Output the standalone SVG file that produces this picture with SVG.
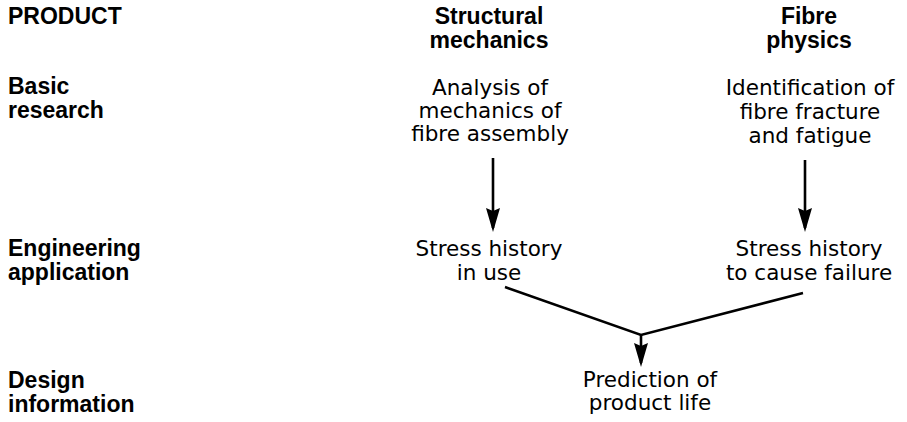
<svg xmlns="http://www.w3.org/2000/svg" width="907" height="422" viewBox="0 0 907 422">
<style>
.b{font-family:"Liberation Sans",Arial,sans-serif;font-weight:bold;font-size:23px;fill:#000}
.r{font-family:"DejaVu Sans","Liberation Sans",sans-serif;font-size:21.5px;fill:#000}
.c{text-anchor:middle}
.ln{stroke:#000;stroke-width:2.6;fill:none}
</style>
<defs>
<marker id="ah" viewBox="0 0 24 14" refX="20" refY="7" markerWidth="24" markerHeight="14" markerUnits="userSpaceOnUse" orient="auto">
<path d="M0,0 L24,7 L0,14 L3,7 z" fill="#000"/>
</marker>
</defs>
<rect width="907" height="422" fill="#fff"/>
<g id="row-labels">
<text class="b" x="8" y="24">PRODUCT</text>
<text class="b" x="8" y="94">Basic</text>
<text class="b" x="8" y="118">research</text>
<text class="b" x="8" y="256">Engineering</text>
<text class="b" x="8" y="280">application</text>
<text class="b" x="8" y="388">Design</text>
<text class="b" x="8" y="412">information</text>
</g>
<g id="col-structural">
<text class="b c" x="489" y="24">Structural</text>
<text class="b c" x="489" y="48">mechanics</text>
</g>
<g id="col-fibre">
<text class="b c" x="809" y="24">Fibre</text>
<text class="b c" x="809" y="48">physics</text>
</g>
<g id="analysis">
<text class="r c" x="490" y="95">Analysis of</text>
<text class="r c" x="490" y="118">mechanics of</text>
<text class="r c" x="490" y="141">fibre assembly</text>
</g>
<g id="identification">
<text class="r c" x="810" y="95">Identification of</text>
<text class="r c" x="810" y="119">fibre fracture</text>
<text class="r c" x="810" y="143">and fatigue</text>
</g>
<g id="stress-use">
<text class="r c" x="489" y="256">Stress history</text>
<text class="r c" x="489" y="280">in use</text>
</g>
<g id="stress-failure">
<text class="r c" x="809" y="256">Stress history</text>
<text class="r c" x="809" y="280">to cause failure</text>
</g>
<g id="prediction">
<text class="r c" x="650" y="387">Prediction of</text>
<text class="r c" x="650" y="410">product life</text>
</g>
<g id="connectors">
<line class="ln" x1="493" y1="158" x2="493" y2="228" marker-end="url(#ah)"/>
<line class="ln" x1="805" y1="160" x2="805" y2="228" marker-end="url(#ah)"/>
<polyline class="ln" points="505,287 641,335 803,293"/>
<line class="ln" x1="641" y1="335" x2="641" y2="363" marker-end="url(#ah)"/>
</g>
</svg>
